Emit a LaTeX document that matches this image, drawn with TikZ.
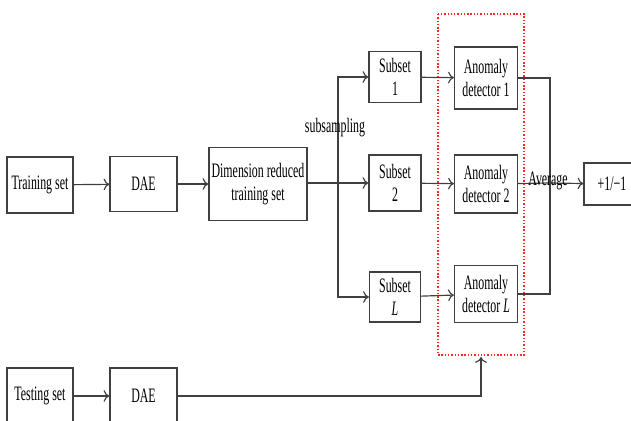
\documentclass[tikz,border=0pt]{standalone}
\usepackage{fontspec}
\setmainfont{Liberation Serif}[FakeStretch=0.58]
\usetikzlibrary{arrows.meta, positioning, calc}

\tikzset{
  blk/.style={draw=black!75, line width=1pt, align=center, inner sep=1pt,
    font=\fontsize{17.5}{19}\selectfont},
  lbl/.style={inner sep=1pt, font=\fontsize{17.5}{19}\selectfont},
  ln/.style={draw=black!75, line width=1pt},
  arr/.style={ln, -{To[length=5pt, width=10pt]}}
}

\begin{document}
\begin{tikzpicture}[x=0.03cm, y=-0.03cm]
    \useasboundingbox (0,0) rectangle (631,421);

    % Ramo di addestramento
    \node[blk, minimum width=1.98cm, minimum height=1.68cm] (train) at (40,185) {Training set};
    \node[blk, minimum width=2.01cm, minimum height=1.65cm] (daeA) at (143.5,184) {DAE};
    \node[blk, minimum width=2.94cm, minimum height=2.19cm] (dimred) at (258,184) {Dimension reduced\\training set};

    % Sottoinsiemi
    \node[blk, minimum width=1.56cm, minimum height=1.53cm] (subA) at (395,77) {Subset\\1};
    \node[blk, minimum width=1.56cm, minimum height=1.68cm] (subB) at (395,183) {Subset\\2};
    \node[blk, minimum width=1.53cm, minimum height=1.50cm] (subL) at (395,297) {Subset\\\textit{L}};

    % Rivelatori di anomalie
    \node[blk, minimum width=1.89cm, minimum height=1.86cm] (detA) at (486,78) {Anomaly\\detector 1};
    \node[blk, minimum width=1.89cm, minimum height=1.74cm] (detB) at (486,184) {Anomaly\\detector 2};
    \node[blk, minimum width=1.89cm, minimum height=1.71cm] (detL) at (486,294) {Anomaly\\detector \textit{L}};

    % Uscita
    \node[blk, minimum width=1.68cm, minimum height=1.26cm] (sign) at (612,184) {+1/−1};

    % Ramo di test
    \node[blk, minimum width=1.98cm, minimum height=1.68cm] (test) at (40,396) {Testing set};
    \node[blk, minimum width=2.01cm, minimum height=1.68cm] (daeB) at (143.5,396) {DAE};

    % Riquadro tratteggiato (rosso)
    \draw[red!85, line width=1.2pt, dash pattern=on 1.2pt off 1.6pt] (438,14) rectangle (524,355);

    % Collegamenti
    \coordinate (split) at (338,183);
    \coordinate (join) at (550,183);
    \coordinate (inL) at (481,357);

    \draw[arr] (train) -- (daeA);
    \draw[arr] (daeA) -- (dimred);
    \draw[arr] (dimred.east |- split) -- (subB);
    \draw[arr] (split) |- (subA);
    \draw[arr] (split) |- (subL);
    \node[lbl] (subsamp) at (335,128) {subsampling};

    \draw[arr] (subA) -- (detA);
    \draw[arr] (subB) -- (detB);
    \draw[arr] (subL) -- (detL);

    \draw[ln] (detA) -| (join);
    \draw[ln] (detL) -| (join);
    \draw[ln] (detB) -- (join);
    \draw[arr] (join) -- (sign);
    \node[lbl] (avg) at (548,181) {Average};

    \draw[arr] (test) -- (daeB);
    \draw[arr] (daeB) -| (inL);

\end{tikzpicture}
\end{document}
